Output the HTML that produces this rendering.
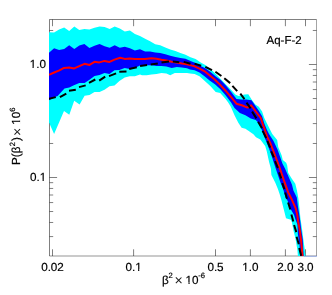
<!DOCTYPE html>
<html><head><meta charset="utf-8"><title>Aq-F-2</title>
<style>
html,body{margin:0;padding:0;background:#fff;}
body{width:332px;height:295px;overflow:hidden;font-family:"Liberation Sans",sans-serif;}
svg{display:block;will-change:transform;}
text{font-family:"Liberation Sans",sans-serif;font-size:11.7px;fill:#000;text-rendering:geometricPrecision;stroke:#000;stroke-width:0.18px;}
.sup{font-size:7.6px;}
.mul{font-size:14.2px;stroke:none;fill:#1a1a1a;}
</style></head><body>
<svg width="332" height="295" viewBox="0 0 332 295">
<rect width="332" height="295" fill="#fff"/>
<defs><clipPath id="c"><rect x="49" y="19" width="268" height="237.3"/></clipPath></defs>
<g fill="none" stroke="#000" stroke-width="0.5">
<path d="M49.5 256.0 V19.5 H316.5"/><path d="M316.5 19.5 V256.0" stroke-width="0.36"/><path d="M49.5 256.0 H316.5" stroke-width="0.42"/>
<path d="M52.50 256.0 v-6.7 M52.50 19.5 v6.7 M133.60 256.0 v-6.7 M133.60 19.5 v6.7 M215.50 256.0 v-6.7 M215.50 19.5 v6.7 M250.40 256.0 v-6.7 M250.40 19.5 v6.7 M285.40 256.0 v-6.7 M285.40 19.5 v6.7 M305.50 256.0 v-6.7 M305.50 19.5 v6.7 M49.5 236.59 h3.7 M316.5 236.59 h-3.7 M49.5 222.47 h3.7 M316.5 222.47 h-3.7 M49.5 211.52 h3.7 M316.5 211.52 h-3.7 M49.5 202.57 h3.7 M316.5 202.57 h-3.7 M49.5 195.00 h3.7 M316.5 195.00 h-3.7 M49.5 188.45 h3.7 M316.5 188.45 h-3.7 M49.5 182.67 h3.7 M316.5 182.67 h-3.7 M49.5 177.50 h7.6 M316.5 177.50 h-7.6 M49.5 143.48 h3.7 M316.5 143.48 h-3.7 M49.5 123.59 h3.7 M316.5 123.59 h-3.7 M49.5 109.47 h3.7 M316.5 109.47 h-3.7 M49.5 98.52 h3.7 M316.5 98.52 h-3.7 M49.5 89.57 h3.7 M316.5 89.57 h-3.7 M49.5 82.00 h3.7 M316.5 82.00 h-3.7 M49.5 75.45 h3.7 M316.5 75.45 h-3.7 M49.5 69.67 h3.7 M316.5 69.67 h-3.7 M49.5 64.50 h7.6 M316.5 64.50 h-7.6 M49.5 30.48 h3.7 M316.5 30.48 h-3.7"/>
</g>
<g clip-path="url(#c)">
<polygon fill="#00ffff" points="49.0,32.3 54.1,32.6 59.1,29.5 64.2,27.6 69.2,31.0 74.3,26.6 79.3,29.9 84.4,29.1 89.4,29.5 94.5,27.8 99.6,26.6 104.6,26.9 109.7,29.1 114.7,26.4 119.8,28.4 124.8,31.4 129.9,30.4 134.9,34.0 140.0,36.0 145.1,38.8 150.1,41.2 155.2,44.3 160.2,45.2 165.3,47.6 170.3,49.4 175.4,51.1 180.4,53.0 185.5,54.7 190.5,57.3 195.6,59.1 200.7,62.5 205.7,65.3 210.8,69.2 215.8,73.9 220.9,79.3 225.9,84.6 231.0,89.8 235.3,94.6 238.5,95.9 244.5,94.5 248.3,94.3 252.1,100.3 255.3,104.5 258.8,106.8 262.1,111.4 264.3,117.9 269.1,127.7 272.3,134.0 277.2,140.0 278.2,147.0 281.6,155.3 282.8,160.0 286.2,162.8 287.2,165.5 288.2,172.8 291.5,178.3 295.3,183.7 296.9,190.2 297.6,194.0 298.4,198.7 299.5,208.4 300.4,218.0 302.0,228.8 303.4,239.7 304.8,250.0 305.5,256.0 297.9,256.0 297.4,250.0 295.7,239.7 293.6,231.0 291.9,222.3 290.8,219.8 286.0,218.2 283.8,209.5 281.6,200.8 279.6,194.0 277.9,189.1 275.2,182.6 271.4,175.0 270.9,168.5 269.2,162.5 266.8,151.4 265.2,145.9 260.3,139.4 256.0,137.3 253.4,134.2 248.0,130.4 245.4,128.7 241.6,127.7 238.3,122.8 234.5,115.2 230.7,106.5 228.0,102.2 225.6,99.1 220.2,93.0 215.7,91.9 210.3,86.1 204.5,80.8 199.5,76.3 194.6,74.0 190.0,73.5 187.0,72.9 181.9,72.9 174.8,72.9 170.2,75.2 166.4,73.6 161.5,72.9 156.5,74.1 151.5,74.4 146.6,75.2 142.0,75.2 140.0,74.5 134.9,76.3 129.8,76.3 124.7,77.6 119.4,80.9 114.5,85.5 109.5,86.3 104.5,89.8 99.6,92.0 94.5,92.0 89.5,95.1 84.6,95.8 79.6,104.5 74.2,100.8 69.3,114.8 64.0,111.0 59.4,121.7 54.1,133.9 49.0,122.4"/>
<polygon fill="#0000ff" points="49.0,52.8 54.1,48.2 59.1,50.0 64.2,49.0 69.2,45.2 74.3,49.0 79.3,45.6 84.4,44.1 89.4,47.9 94.5,45.8 99.6,44.1 104.6,46.2 109.7,47.7 114.7,45.2 119.8,47.7 124.8,46.7 129.9,48.2 134.9,50.5 140.0,49.3 145.1,51.5 150.1,51.4 155.2,52.6 160.2,52.9 165.3,54.3 170.3,55.8 175.4,57.1 180.4,58.0 185.5,58.8 190.5,61.0 195.6,62.9 200.7,66.1 205.7,68.5 210.8,72.3 215.8,76.4 220.9,80.2 225.9,85.4 231.0,91.8 236.5,99.0 241.1,99.4 246.1,99.6 251.5,100.3 255.3,105.7 258.8,110.8 262.1,116.3 264.3,123.4 267.0,129.9 269.0,134.0 273.4,140.8 277.5,149.5 280.2,157.0 282.4,163.5 285.0,168.5 288.8,177.2 292.0,184.8 293.4,190.5 296.8,197.6 297.9,206.3 299.5,216.0 300.1,220.0 301.1,228.8 302.8,239.7 303.3,250.0 303.6,256.0 300.1,256.0 299.5,245.1 297.9,234.3 297.4,224.5 295.5,219.5 294.1,214.9 290.3,208.4 287.6,200.8 285.4,197.6 283.6,190.5 280.1,181.5 276.8,171.8 273.6,162.0 272.3,157.9 269.6,150.3 266.8,142.7 263.5,134.7 261.0,127.7 257.8,122.2 255.7,120.1 250.8,118.4 245.4,115.2 239.9,113.0 234.5,108.1 230.9,102.3 225.6,95.2 220.2,89.1 214.9,84.3 209.6,80.4 204.5,76.3 199.5,72.4 194.6,70.2 190.0,69.4 187.0,68.3 181.9,67.5 176.8,67.1 171.7,68.0 166.4,66.5 161.5,66.0 156.5,66.0 151.5,65.2 146.6,65.2 142.0,66.0 140.0,65.4 134.9,68.0 129.8,69.0 124.7,68.0 119.4,69.9 114.5,70.2 109.5,74.1 104.5,73.0 99.6,75.1 94.5,76.0 89.5,79.8 84.6,82.9 79.3,82.9 73.9,85.2 69.3,87.4 64.5,88.4 57.6,95.9 54.1,97.3 49.0,100.3"/>
<polyline fill="none" stroke="#ff0000" stroke-width="2" stroke-linejoin="round" points="49.0,74.8 54.1,72.5 59.4,70.4 64.0,67.9 69.3,67.6 74.2,68.4 79.3,66.1 84.6,63.8 89.5,64.9 94.5,61.8 99.3,62.4 104.5,60.9 109.5,61.9 114.5,59.6 120.2,57.7 124.7,58.9 129.8,58.4 134.9,58.9 140.0,58.9 145.0,58.9 151.5,58.2 156.5,58.7 161.5,59.7 166.4,60.5 171.7,61.7 176.8,62.5 181.9,63.5 187.0,64.3 192.0,65.6 194.6,66.3 199.5,68.6 205.2,71.7 209.5,75.2 214.4,79.3 219.7,84.4 225.6,90.7 230.9,96.8 236.4,103.7 241.8,105.3 247.5,107.6 251.2,105.3 256.2,112.0 260.8,118.0 263.2,125.2 267.5,137.5 270.1,142.7 273.9,152.4 278.8,165.5 280.6,170.7 283.9,180.4 288.2,192.4 291.4,198.7 295.7,208.4 297.3,214.9 298.2,222.0 299.6,229.0 301.0,240.0 302.0,250.0 302.5,256.0"/>
<path fill="none" stroke="#000" stroke-width="2" d="M49.0 98.9L55.8 97.1 M59.9 97.1L66.3 93.7 M69.0 90.8L75.8 89.8 M79.0 87.1L85.7 85.4 M89.0 82.8L95.3 79.5 M99.2 80.6L105.2 76.6 M109.0 76.1L116.1 73.4 M119.3 71.7L126.5 71.6 M129.2 68.9L136.8 67.3 M140.1 65.9L147.1 65.1 M150.7 64.5L157.8 63.5 M161.5 62.6L169.0 61.4 M172.8 61.4L179.3 62.2 M183.7 61.9L190.5 63.7 M194.5 63.6L201.2 65.7 M205.3 66.8L212.0 70.1 M215.4 71.8L221.4 76.0 M224.3 78.3L230.2 83.1 M232.4 85.8L237.2 91.1 M240.3 93.7L244.5 99.2 M246.5 102.7L250.6 108.3 M252.1 111.6L256.4 118.4 M258.1 121.7L261.9 128.2 M262.6 130.9L266.2 138.0 M267.4 141.0L270.1 147.6 M271.2 151.4L273.9 157.3 M275.0 161.1L277.9 168.0 M279.0 172.3L281.2 178.3 M282.3 183.1L284.4 189.1 M285.2 192.5L287.0 198.7 M288.1 202.5L290.3 209.5 M291.4 214.4L293.3 221.4 M294.1 225.0L296.3 232.1 M296.6 236.8L298.8 244.2 M299.2 248.0L301.2 255.7"/>
</g>
<line x1="304" y1="256.3" x2="317" y2="256.3" stroke="#8aa5f5" stroke-width="0.7"/>
<text x="52.5" y="270.6" text-anchor="middle">0.02</text><text x="133.6" y="270.6" text-anchor="middle">0.1</text><text x="215.5" y="270.6" text-anchor="middle">0.5</text><text x="250.4" y="270.6" text-anchor="middle">1.0</text><text x="285.4" y="270.6" text-anchor="middle">2.0</text><text x="305.5" y="270.6" text-anchor="middle">3.0</text>
<text x="45.9" y="68.0" text-anchor="end">1.0</text>
<text x="46.2" y="181.0" text-anchor="end">0.1</text>
<text x="266.5" y="43.7" style="font-size:11.5px">Aq-F-2</text>
<text y="283.5"><tspan x="161.9">β</tspan><tspan class="sup" x="168.5" dy="-5.5">2</tspan><tspan x="185.6" dy="5.5">10</tspan><tspan class="sup" x="198.2" dy="-5.5">-6</tspan></text>
<rect x="135.24" y="269.38" width="2.80" height="1.72" fill="#fff"/><rect x="139.32" y="269.38" width="2.69" height="1.72" fill="#fff"/><rect x="242.29" y="269.38" width="2.80" height="1.72" fill="#fff"/><rect x="246.36" y="269.38" width="2.69" height="1.72" fill="#fff"/><rect x="29.65" y="66.78" width="2.80" height="1.72" fill="#fff"/><rect x="33.73" y="66.78" width="2.69" height="1.72" fill="#fff"/><rect x="39.71" y="179.78" width="2.80" height="1.72" fill="#fff"/><rect x="43.79" y="179.78" width="2.69" height="1.72" fill="#fff"/><rect x="185.62" y="282.28" width="2.80" height="1.72" fill="#fff"/><rect x="189.70" y="282.28" width="2.69" height="1.72" fill="#fff"/>
<text class="mul" x="178.75" y="285.0" text-anchor="middle">×</text>
<g transform="translate(20.2,166.7) rotate(-90)">
<text><tspan x="1.7" y="0">P</tspan><tspan x="9.4">(</tspan><tspan x="13.5">β</tspan><tspan class="sup" x="20.5" dy="-4.9">2</tspan><tspan x="25.7" dy="4.9">)</tspan><tspan x="42.0">10</tspan><tspan class="sup" x="54.9" dy="-4.9">6</tspan></text>
<rect x="42.02" y="-1.22" width="2.80" height="1.72" fill="#fff"/><rect x="46.10" y="-1.22" width="2.69" height="1.72" fill="#fff"/>
<text class="mul" x="34.8" y="1.3" text-anchor="middle">×</text>
</g>
</svg>
</body></html>
